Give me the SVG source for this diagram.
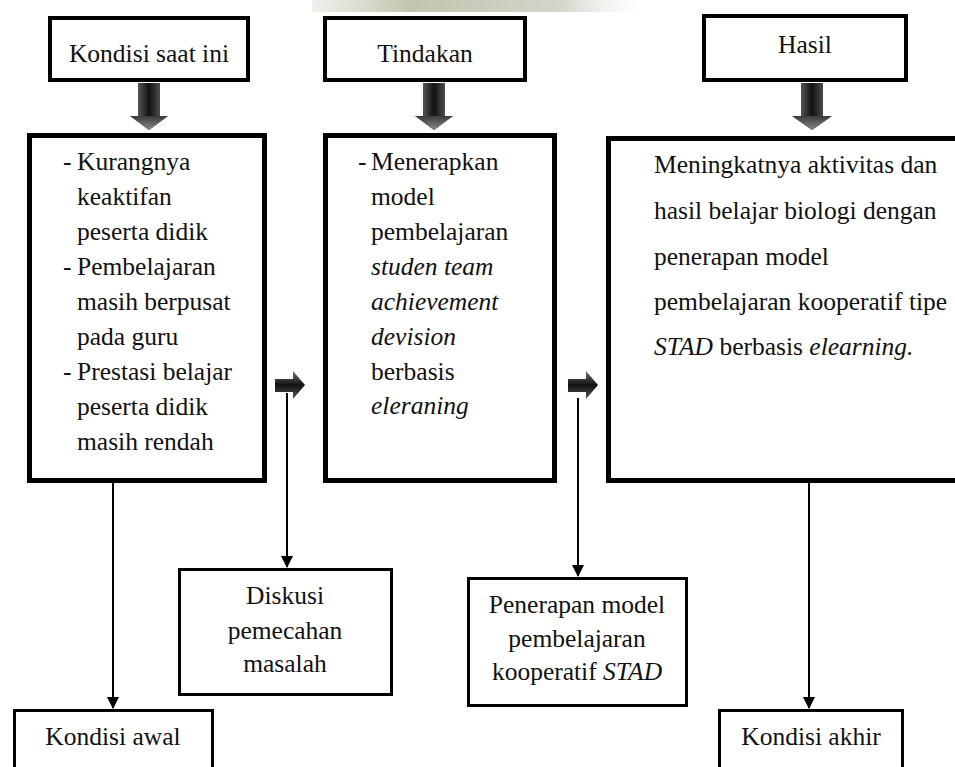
<svg xmlns="http://www.w3.org/2000/svg" width="955" height="767" viewBox="0 0 955 767">
<defs>
<linearGradient id="shaft" x1="0" y1="0" x2="1" y2="0">
<stop offset="0" stop-color="#8a8a8a"/>
<stop offset="0.5" stop-color="#111"/>
<stop offset="1" stop-color="#7a7a7a"/>
</linearGradient>
<linearGradient id="head" x1="0" y1="0" x2="0" y2="1">
<stop offset="0" stop-color="#3a3a3a"/>
<stop offset="1" stop-color="#8a8a8a"/>
</linearGradient>
<linearGradient id="shaftR" x1="0" y1="0" x2="0" y2="1">
<stop offset="0" stop-color="#777"/>
<stop offset="0.5" stop-color="#111"/>
<stop offset="1" stop-color="#555"/>
</linearGradient>
<linearGradient id="photo" x1="0" y1="0" x2="1" y2="0">
<stop offset="0" stop-color="#b8b4a0" stop-opacity="0.2"/>
<stop offset="0.3" stop-color="#a9ab8c" stop-opacity="0.7"/>
<stop offset="0.75" stop-color="#b5b9a6" stop-opacity="0.6"/>
<stop offset="1" stop-color="#e0e0dc" stop-opacity="0"/>
</linearGradient>
<marker id="tri" viewBox="0 0 12 12" refX="11" refY="6" markerWidth="12" markerHeight="12" markerUnits="userSpaceOnUse" orient="auto">
<path d="M0,0 L12,6 L0,12 Z" fill="#000"/>
</marker>
</defs>
<style>
.hb{fill:#fff;stroke:#000;stroke-width:4}
.mb{fill:#fff;stroke:#000;stroke-width:5}
.lb{fill:#fff;stroke:#000;stroke-width:3}
.ln{stroke:#000;stroke-width:2;fill:none}
</style>
<rect x="0" y="0" width="955" height="767" fill="#fff"/>
<rect x="312" y="0" width="330" height="12" fill="url(#photo)"/>

<g id="connectors">
<g id="block-arrows">
<path d="M138,83 H160 V116 H168 L149,130 L130,116 H138 Z" fill="url(#shaft)"/>
<path d="M130,116 H168 L149,130 Z" fill="url(#head)"/>
<path d="M423,83 H445 V116 H453 L434,130 L415,116 H423 Z" fill="url(#shaft)"/>
<path d="M415,116 H453 L434,130 Z" fill="url(#head)"/>
<path d="M801,83 H823 V116 H832 L812,130 L792,116 H801 Z" fill="url(#shaft)"/>
<path d="M792,116 H832 L812,130 Z" fill="url(#head)"/>
<path d="M275,379 H293 V371 L305,385 L293,399 V392 H275 Z" fill="url(#shaftR)"/>
<path d="M568,379 H586 V371 L598,385 L586,399 V392 H568 Z" fill="url(#shaftR)"/>
</g>
<line class="ln" x1="113" y1="483" x2="113" y2="708" marker-end="url(#tri)"/>
<line class="ln" x1="287" y1="393" x2="287" y2="567" marker-end="url(#tri)"/>
<line class="ln" x1="578" y1="398" x2="578" y2="576" marker-end="url(#tri)"/>
<line class="ln" x1="809" y1="483" x2="809" y2="708" marker-end="url(#tri)"/>
</g>

<g id="kondisi-saat-ini">
<rect class="hb" x="50" y="18" width="198" height="62"/>
<text font-family="Liberation Serif" font-size="25.5" fill="#111" text-anchor="middle" x="149" y="62">Kondisi saat ini</text>
</g>
<g id="tindakan">
<rect class="hb" x="325" y="18" width="200" height="62"/>
<text font-family="Liberation Serif" font-size="25.5" fill="#111" text-anchor="middle" x="425" y="62">Tindakan</text>
</g>
<g id="hasil">
<rect class="hb" x="704" y="16" width="202" height="64"/>
<text font-family="Liberation Serif" font-size="25.5" fill="#111" text-anchor="middle" x="805" y="53">Hasil</text>
</g>

<g id="kondisi-list">
<rect class="mb" x="29.5" y="135.5" width="235" height="345"/>
<text font-family="Liberation Serif" font-size="25.5" fill="#111" x="63" y="170">-</text><text font-family="Liberation Serif" font-size="25.5" fill="#111" x="77" y="170">Kurangnya</text>
<text font-family="Liberation Serif" font-size="25.5" fill="#111" x="77" y="205">keaktifan</text>
<text font-family="Liberation Serif" font-size="25.5" fill="#111" x="77" y="240">peserta didik</text>
<text font-family="Liberation Serif" font-size="25.5" fill="#111" x="63" y="275">-</text><text font-family="Liberation Serif" font-size="25.5" fill="#111" x="77" y="275">Pembelajaran</text>
<text font-family="Liberation Serif" font-size="25.5" fill="#111" x="77" y="310">masih berpusat</text>
<text font-family="Liberation Serif" font-size="25.5" fill="#111" x="77" y="345">pada guru</text>
<text font-family="Liberation Serif" font-size="25.5" fill="#111" x="63" y="380">-</text><text font-family="Liberation Serif" font-size="25.5" fill="#111" x="77" y="380">Prestasi belajar</text>
<text font-family="Liberation Serif" font-size="25.5" fill="#111" x="77" y="415">peserta didik</text>
<text font-family="Liberation Serif" font-size="25.5" fill="#111" x="77" y="450">masih rendah</text>
</g>

<g id="tindakan-list">
<rect class="mb" x="325.5" y="135.5" width="229" height="345"/>
<text font-family="Liberation Serif" font-size="25.5" fill="#111" x="358" y="170">-</text><text font-family="Liberation Serif" font-size="25.5" fill="#111" x="371" y="170">Menerapkan</text>
<text font-family="Liberation Serif" font-size="25.5" fill="#111" x="371" y="205">model</text>
<text font-family="Liberation Serif" font-size="25.5" fill="#111" x="371" y="240">pembelajaran</text>
<text font-family="Liberation Serif" font-size="25.5" fill="#111" font-style="italic" x="371" y="275">studen team</text>
<text font-family="Liberation Serif" font-size="25.5" fill="#111" font-style="italic" x="371" y="310">achievement</text>
<text font-family="Liberation Serif" font-size="25.5" fill="#111" font-style="italic" x="371" y="345">devision</text>
<text font-family="Liberation Serif" font-size="25.5" fill="#111" x="371" y="380">berbasis</text>
<text font-family="Liberation Serif" font-size="25.5" fill="#111" font-style="italic" x="371" y="414">eleraning</text>
</g>

<g id="hasil-desc">
<rect class="mb" x="608.5" y="138.5" width="360" height="342"/>
<text font-family="Liberation Serif" font-size="25.5" fill="#111" x="654" y="173">Meningkatnya aktivitas dan</text>
<text font-family="Liberation Serif" font-size="25.5" fill="#111" x="654" y="219">hasil belajar biologi dengan</text>
<text font-family="Liberation Serif" font-size="25.5" fill="#111" x="654" y="265">penerapan model</text>
<text font-family="Liberation Serif" font-size="25.5" fill="#111" x="654" y="310">pembelajaran kooperatif tipe</text>
<text font-family="Liberation Serif" font-size="25.5" fill="#111" x="654" y="355"><tspan font-style="italic">STAD</tspan> berbasis <tspan font-style="italic">elearning.</tspan></text>
</g>

<g id="diskusi">
<rect class="lb" x="179.5" y="569.5" width="212" height="125"/>
<text font-family="Liberation Serif" font-size="25.5" fill="#111" text-anchor="middle" x="285" y="604">Diskusi</text>
<text font-family="Liberation Serif" font-size="25.5" fill="#111" text-anchor="middle" x="285" y="639">pemecahan</text>
<text font-family="Liberation Serif" font-size="25.5" fill="#111" text-anchor="middle" x="285" y="672">masalah</text>
</g>

<g id="penerapan">
<rect class="lb" x="468.5" y="578.5" width="218" height="127"/>
<text font-family="Liberation Serif" font-size="25.5" fill="#111" text-anchor="middle" x="577" y="613">Penerapan model</text>
<text font-family="Liberation Serif" font-size="25.5" fill="#111" text-anchor="middle" x="577" y="647">pembelajaran</text>
<text font-family="Liberation Serif" font-size="25.5" fill="#111" text-anchor="middle" x="577" y="680">kooperatif <tspan font-style="italic">STAD</tspan></text>
</g>

<g id="kondisi-awal">
<rect class="lb" x="14.5" y="710.5" width="198" height="70"/>
<text font-family="Liberation Serif" font-size="25.5" fill="#111" text-anchor="middle" x="113" y="745">Kondisi awal</text>
</g>

<g id="kondisi-akhir">
<rect class="lb" x="719.5" y="710.5" width="183" height="70"/>
<text font-family="Liberation Serif" font-size="25.5" fill="#111" text-anchor="middle" x="811" y="745">Kondisi akhir</text>
</g>
</svg>
